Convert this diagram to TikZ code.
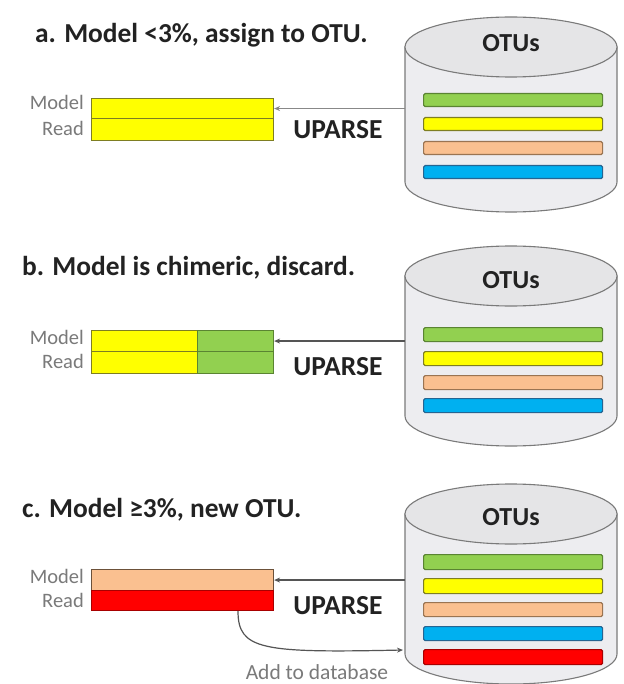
\documentclass[tikz,border=0pt]{standalone}
\usepackage{fontspec}
\setmainfont{Carlito}
\usetikzlibrary{arrows.meta}
\definecolor{cylbody}{HTML}{EDEDF0}
\definecolor{cyltop}{HTML}{E5E5E7}
\definecolor{cylline}{HTML}{7A7A7A}
\definecolor{yel}{HTML}{FFFF00}
\definecolor{yelD}{HTML}{7E7E22}
\definecolor{grn}{HTML}{92D050}
\definecolor{grnD}{HTML}{5A8432}
\definecolor{pch}{HTML}{FAC090}
\definecolor{pchD}{HTML}{9A7452}
\definecolor{blu}{HTML}{00B0F0}
\definecolor{bluD}{HTML}{256592}
\definecolor{rd}{HTML}{FF0000}
\definecolor{rdD}{HTML}{A80000}
\definecolor{txt}{HTML}{222222}
\definecolor{lblc}{HTML}{7A7A7A}
\definecolor{arrc}{HTML}{555555}
\tikzset{
  titlet/.style={anchor=base west, inner sep=0, text=txt, font=\bfseries\fontsize{27.4}{31}\selectfont},
  lbl/.style={anchor=east, inner sep=0, text=lblc, font=\fontsize{20.5}{24}\selectfont},
  uparse/.style={inner sep=0, text=txt, font=\bfseries\fontsize{27.5}{31}\selectfont},
  otut/.style={inner sep=0, text=txt, font=\bfseries\fontsize{26}{30}\selectfont},
  bar/.style={anchor=north west, inner sep=0, line width=1.1pt, minimum width=182},
  stripe/.style={anchor=north west, inner sep=0, line width=1.2pt, minimum width=179, rounded corners=1.5pt},
  arr/.style={draw=arrc, line width=1.2pt, -{Stealth[length=6pt,width=5pt]}},
  addt/.style={inner sep=0, text=lblc, font=\fontsize{21.5}{25}\selectfont},
}
% #1 name, #2 top ellipse centre y, #3 bottom ellipse centre y
\newcommand\otucyl[3]{%
  \filldraw[fill=cylbody, draw=cylline, line width=1.1pt]
    (405,#2) -- (405,#3) arc[start angle=180, end angle=0, x radius=106, y radius=30] -- (617,#2) -- cycle;
  \filldraw[fill=cyltop, draw=cylline, line width=1.1pt]
    (511,#2) ellipse[x radius=106, y radius=30];
  \node[inner sep=0, minimum width=212, minimum height={#3-#2+60}] (#1) at (511,{(#2+#3)/2}) {};
}
\begin{document}
\begin{tikzpicture}[x=1pt, y=-1pt]
\useasboundingbox (0,0) rectangle (623,684);
\fill[white] (0,0) rectangle (623,684);

% ---------- panel a ----------
\node[titlet] (tA) at (35,43) {a. Model <3\%, assign to OTU.};
\otucyl{cylA}{47}{182}
\node[otut] (oA) at (511,43) {OTUs};
\node[stripe, fill=grn, draw=grnD] (sA1) at (423,93) [minimum height=13] {};
\node[stripe, fill=yel, draw=yelD] (sA2) at (423,117) [minimum height=13] {};
\node[stripe, fill=pch, draw=pchD] (sA3) at (423,141) [minimum height=13] {};
\node[stripe, fill=blu, draw=bluD] (sA4) at (423,165) [minimum height=13] {};
\node[bar, fill=yel, draw=yelD, minimum height=20] (mA) at (91,98) {};
\node[bar, fill=yel, draw=yelD, minimum height=22] (rA) at (91,118) {};
\node[lbl] (lmA) at (84,102) {Model};
\node[lbl] (lrA) at (84,128) {Read};
\draw[arr, draw=arrc!70] (mA.east -| cylA.west) -- (mA.east);
\node[uparse] (uA) at (338,130) {UPARSE};

% ---------- panel b ----------
\node[titlet] (tB) at (22,275) {b. Model is chimeric, discard.};
\otucyl{cylB}{276}{416}
\node[otut] (oB) at (511,280) {OTUs};
\node[stripe, fill=grn, draw=grnD] (sB1) at (423,327) [minimum height=14] {};
\node[stripe, fill=yel, draw=yelD] (sB2) at (423,351) [minimum height=14] {};
\node[stripe, fill=pch, draw=pchD] (sB3) at (423,375) [minimum height=14] {};
\node[stripe, fill=blu, draw=bluD] (sB4) at (423,398) [minimum height=14] {};
\node[bar, fill=yel, draw=yelD, minimum width=106, minimum height=21] (mB1) at (91,330) {};
\node[bar, fill=grn, draw=grnD, minimum width=76, minimum height=21] (mB2) at (197,330) {};
\node[bar, fill=yel, draw=yelD, minimum width=106, minimum height=22] (rB1) at (91,351) {};
\node[bar, fill=grn, draw=grnD, minimum width=76, minimum height=22] (rB2) at (197,351) {};
\node[lbl] (lmB) at (84,337) {Model};
\node[lbl] (lrB) at (84,361) {Read};
\draw[arr] (mB2.east -| cylB.west) -- (mB2.east);
\node[uparse] (uB) at (338,367) {UPARSE};

% ---------- panel c ----------
\node[titlet] (tC) at (22,517) {c. Model ≥3\%, new OTU.};
\otucyl{cylC}{514}{654}
\node[otut] (oC) at (511,517) {OTUs};
\node[stripe, fill=grn, draw=grnD] (sC1) at (423,554) [minimum height=15] {};
\node[stripe, fill=yel, draw=yelD] (sC2) at (423,578) [minimum height=15] {};
\node[stripe, fill=pch, draw=pchD] (sC3) at (423,602) [minimum height=14] {};
\node[stripe, fill=blu, draw=bluD] (sC4) at (423,626) [minimum height=14] {};
\node[stripe, fill=rd, draw=rdD] (sC5) at (423,649) [minimum height=15] {};
\node[bar, fill=pch, draw=pchD!70!black, minimum height=21] (mC) at (91,569) {};
\node[bar, fill=rd, draw=rdD, minimum height=20] (rC) at (91,590) {};
\node[lbl] (lmC) at (84,576) {Model};
\node[lbl] (lrC) at (84,600) {Read};
\draw[arr] (mC.east -| cylC.west) -- (mC.east);
\node[uparse] (uC) at (338,606) {UPARSE};
\coordinate (addC) at (403,650);
\draw[arr] ([xshift=147pt]rC.south west) .. controls (238,650) and (262,653) .. (addC);
\node[addt] (tAdd) at (317,672) {Add to database};
\end{tikzpicture}
\end{document}
